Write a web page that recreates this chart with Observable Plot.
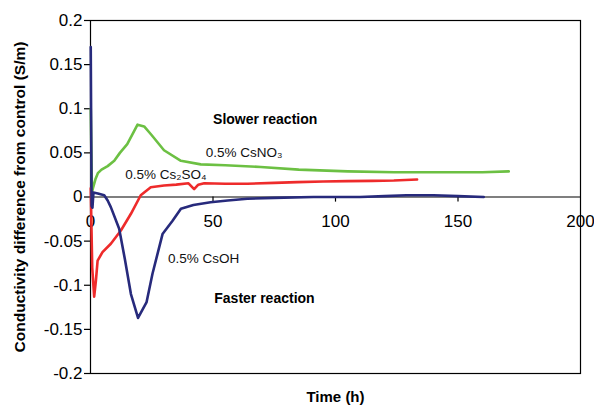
<!DOCTYPE html>
<html>
<head>
<meta charset="utf-8">
<script src="https://cdn.jsdelivr.net/npm/d3@7"></script>
<script src="https://cdn.jsdelivr.net/npm/@observablehq/plot@0.6"></script>
<style>
  html, body { margin: 0; padding: 0; background: #fff; }
</style>
</head>
<body>
<div id="chart"></div>
<script>
// Data (time in h, conductivity difference in S/m)
const csno3T = [0.1, 0.6, 1.0, 2.0, 3.0, 4.5, 7, 9.7, 12, 15, 19.2, 21.9, 25, 30, 36.9, 45, 55, 69.5, 85, 105, 124, 145.6, 160, 170.7];
const csno3V = [0.1, 0.005, 0.01, 0.02, 0.027, 0.031, 0.035, 0.041, 0.05, 0.06, 0.082, 0.080, 0.07, 0.053, 0.041, 0.037, 0.036, 0.034, 0.031, 0.029, 0.028, 0.028, 0.028, 0.029];

const cs2so4T = [0.1, 0.7, 1.5, 2.2, 2.9, 4.9, 8.3, 12.4, 16.5, 20.5, 24.6, 30, 35, 40, 42.3, 44, 46.4, 55, 64, 75, 84.4, 95, 104.8, 115, 123.8, 133.3];
const cs2so4V = [0.01, -0.08, -0.113, -0.095, -0.072, -0.0625, -0.053, -0.038, -0.019, 0.002, 0.011, 0.013, 0.014, 0.0155, 0.009, 0.014, 0.0156, 0.015, 0.015, 0.016, 0.0168, 0.0175, 0.018, 0.0183, 0.0187, 0.0198];

const csohT = [0.1, 0.45, 0.8, 1.2, 3, 5.6, 7, 8.3, 11.7, 14, 16.5, 19.4, 22.9, 25.3, 29.4, 33.5, 36.9, 42, 49, 56, 64, 75, 91, 110, 120, 129, 140, 150, 160.5];
const csohV = [0.17, -0.01, -0.012, 0.005, 0.004, 0.002, -0.004, -0.0115, -0.036, -0.07, -0.11, -0.137, -0.119, -0.087, -0.042, -0.027, -0.0134, -0.009, -0.006, -0.004, -0.002, -0.001, 0, 0, 0.001, 0.002, 0.002, 0.001, 0];

const xTicks = [0, 50, 100, 150, 200];
const yTicks = [-0.2, -0.15, -0.1, -0.05, 0, 0.05, 0.1, 0.15, 0.2];

// Series annotations (start-anchored) and region annotations (bold, centered)
const seriesLabelTexts = ["0.5% CsNO\u2083", "0.5% Cs\u2082SO\u2084", "0.5% CsOH"];
const seriesLabelT = [47.0, 14.2, 31.6];
const seriesLabelV = [0.0504, 0.0255, -0.0697];

const regionLabelTexts = ["Slower reaction", "Faster reaction"];
const regionLabelT = [71.3, 71];
const regionLabelV = [0.0878, -0.115];

const seriesNames = ["CsNO3", "Cs2SO4", "CsOH"];
const seriesColors = ["#6cc043", "#ee2b2b", "#272a7c"];

// Build tables
const toRows = (ts, vs, s) => ts.map((t, i) => ({t, v: vs[i], s}));
const rows = [
  ...toRows(csno3T, csno3V, "CsNO3"),
  ...toRows(cs2so4T, cs2so4V, "Cs2SO4"),
  ...toRows(csohT, csohV, "CsOH")
];
const seriesLabels = seriesLabelTexts.map((text, i) => ({text, t: seriesLabelT[i], v: seriesLabelV[i]}));
const regionLabels = regionLabelTexts.map((text, i) => ({text, t: regionLabelT[i], v: regionLabelV[i]}));

const fmt = d => String(Math.round(d * 100) / 100);

const chart = Plot.plot({
  width: 594,
  height: 409,
  marginLeft: 90,
  marginRight: 14,
  marginTop: 20,
  marginBottom: 36,
  style: {fontFamily: "'Liberation Sans', Arial, Helvetica, sans-serif", background: "#fff", color: "#000"},
  x: {domain: [0, 200], axis: null},
  y: {domain: [-0.2, 0.2], axis: null},
  color: {domain: seriesNames, range: seriesColors},
  marks: [
    Plot.frame({stroke: "#000", strokeWidth: 1.2}),
    Plot.axisY(yTicks, {tickSize: 6, tickPadding: 2, fontSize: 17, tickFormat: fmt, label: null, stroke: "#000", strokeWidth: 1.2}),
    Plot.ruleY([0], {stroke: "#000", strokeWidth: 1.2}),
    Plot.ruleX(xTicks.slice(1, -1), {x: d => d, y1: 0, y2: -0.0058, stroke: "#000", strokeWidth: 1.2}),
    Plot.text(xTicks, {x: d => d, y: 0, dy: 25, text: d => String(d), fontSize: 17, fill: "#000"}),
    Plot.line(rows, {x: "t", y: "v", z: "s", stroke: "s", strokeWidth: 2.6, strokeLinejoin: "round", strokeLinecap: "round"}),
    Plot.text(seriesLabels, {x: "t", y: "v", text: "text", textAnchor: "start", fontSize: 13.5, fill: "#111"}),
    Plot.text(regionLabels, {x: "t", y: "v", text: "text", textAnchor: "middle", fontWeight: "bold", fontSize: 14, fill: "#000"}),
    Plot.text(["Conductivity difference from control (S/m)"], {frameAnchor: "left", textAnchor: "middle", dx: -70, rotate: -90, fontWeight: "bold", fontSize: 15.5, fill: "#000"}),
    Plot.text(["Time (h)"], {frameAnchor: "bottom", dy: 28, fontWeight: "bold", fontSize: 15, fill: "#000"})
  ]
});
document.getElementById("chart").appendChild(chart);
</script>
</body>
</html>
